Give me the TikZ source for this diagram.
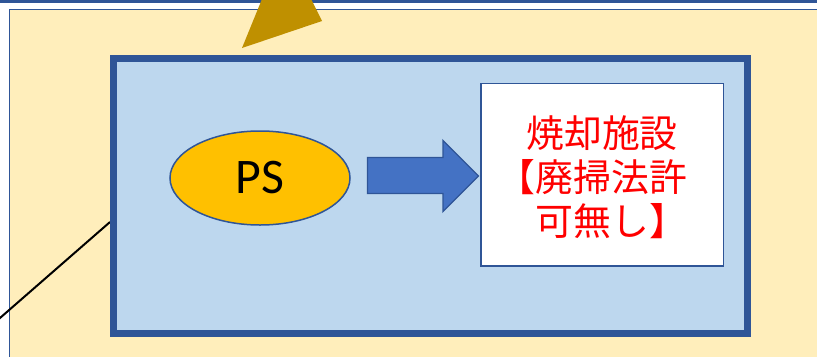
\documentclass[tikz,border=0pt]{standalone}
\usepackage{fontspec}
\setmainfont{Carlito}
\newfontfamily\jp{Noto Sans CJK JP}
\newfontfamily\jph[RawFeature=+halt]{Noto Sans CJK JP}
\newcommand{\hb}[1]{{\jph #1}}
\usetikzlibrary{shapes.geometric}
\definecolor{bord}{HTML}{2F5597}
\definecolor{paleyel}{HTML}{FFEEBB}
\definecolor{paleblue}{HTML}{BDD7EE}
\definecolor{ellfill}{HTML}{FFC000}
\definecolor{arrfill}{HTML}{4472C4}
\definecolor{goldc}{HTML}{BF9000}
\tikzset{
  groupbox/.style={draw=bord, line width=7bp, fill=paleblue, minimum width=634bp, minimum height=275bp, inner sep=0pt},
  facility/.style={draw=bord, line width=1.5bp, fill=white, minimum width=242.5bp, minimum height=182.5bp, inner sep=0pt, align=center, text=red, font=\jp\fontsize{38}{44}\selectfont},
  psnode/.style={ellipse, draw=bord, line width=1.5bp, fill=ellfill, minimum width=180bp, minimum height=94bp, inner sep=0pt, font=\fontsize{50}{50}\selectfont},
}
\begin{document}
\begin{tikzpicture}[x=1bp,y=-1bp]
\useasboundingbox (0,0) rectangle (817,356);
\begin{scope}
\clip (0,0) rectangle (817,356);
% top line
\fill[bord] (0,0) rectangle (817,2.6);
% outer yellow frame
\draw[draw=bord, line width=1.6bp, fill=paleyel] (9.5,9.5) rectangle (830,370);
% connector line
\coordinate (lineend) at (-10,326.7);
\coordinate (boxleft) at (110,222);
\draw[line width=2bp, black] (boxleft) -- (lineend);
% group box
\node[groupbox] (grp) at (430.5,196) {};
% facility
\node[facility] (fac) at (602,174.5) {\rule{0pt}{37bp}焼却施設\\\hb{【}廃掃法許\\可無し\hb{】}};
% PS ellipse
\node[psnode] (ps) at (260,178) {PS};
% block arrow
\draw[draw=bord, line width=1.3bp, fill=arrfill]
  (367.5,157.5) -- (443,157.5) -- (443,140.5) -- (478.5,176) -- (443,211.5) -- (443,193.5) -- (367.5,193.5) -- cycle;
% gold shape at top
\fill[goldc] (262,-1) -- (242,48) -- (322,21) -- (311,-1) -- cycle;
\end{scope}
\end{tikzpicture}
\end{document}
